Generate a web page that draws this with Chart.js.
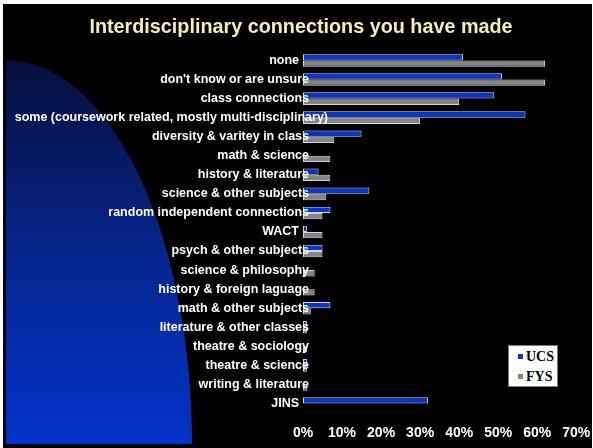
<!DOCTYPE html>
<html>
<head>
<meta charset="utf-8">
<script src="https://cdn.jsdelivr.net/npm/chart.js@4.4.1/dist/chart.umd.min.js"></script>
<style>
  html, body { margin: 0; padding: 0; background: #ffffff; }
  #slide { position: absolute; left: 3px; top: 4px; width: 589px; height: 444px; background: #000000; overflow: hidden; }
  #chart { position: absolute; left: 0; top: 0; }
  #legend {
    position: absolute; left: 505px; top: 341px; width: 50px; height: 42px;
    box-sizing: border-box; background: #ffffff; border: 1px solid #7a7a7a;
    font: bold 14px "Liberation Serif", "Times New Roman", serif; color: #000000;
  }
  #legend .row { position: absolute; left: 0; height: 19px; line-height: 19px; white-space: nowrap; }
  #legend .swatch { position: absolute; left: 9px; top: 7px; width: 5px; height: 5px; }
  #legend .name { position: absolute; left: 17px; top: 0; }
</style>
</head>
<body>
<div id="slide">
  <canvas id="chart" width="589" height="444"></canvas>
  <div id="legend"></div>
</div>
<script>
// Survey answers, top to bottom
const categories = [
  'none',
  "don't know or are unsure",
  'class connections',
  'some (coursework related, mostly multi-disciplinary)',
  'diversity & varitey in class',
  'math & science',
  'history & literature',
  'science & other subjects',
  'random independent connections',
  'WACT',
  'psych & other subjects',
  'science & philosophy',
  'history & foreign laguage',
  'math & other subjects',
  'literature & other classes',
  'theatre & sociology',
  'theatre & science',
  'writing & literature',
  'JINS'
];

// Share of respondents, in percent
const ucsValues = [41, 51, 49, 57, 15, 0, 4, 17, 7, 1, 5, 0, 0, 7, 1, 0, 1, 0, 32];
const fysValues = [62, 62, 40, 30, 8, 7, 7, 6, 5, 5, 5, 3, 3, 2, 1, 1, 1, 1, 0];

const seriesNames = ['UCS', 'FYS'];
const seriesColors = ['#0535d2', '#858585'];

// Axis ticks, in percent
const xTicks = [0, 10, 20, 30, 40, 50, 60, 70];

const titleText = 'Interdisciplinary connections you have made';

const sansFamily = '"Liberation Sans", Arial, sans-serif';
const labelFont = { family: sansFamily, size: 12.5, weight: 'bold' };

// Measure a category label the same way the axis will
const measureCtx = document.createElement('canvas').getContext('2d');
measureCtx.font = 'bold ' + labelFont.size + 'px ' + sansFamily;
const labelWidth = s => measureCtx.measureText(s).width;

// Label columns: very short answers sit tight to the bars, the very long one
// runs well past the axis, the rest end slightly inside the plot.
const PLOT_LEFT = 300;
const labelGroups = [
  { id: 'y',      end: 306, weight: 3, width: 293, pick: w => w >= 60 && w < 260 },
  { id: 'yShort', end: 296, weight: 2, width: 0,   pick: w => w < 60 },
  { id: 'yWide',  end: 325, weight: 1, width: 0,   pick: w => w >= 260 }
];

function labelAxis(group) {
  const shown = categories.map(c => group.pick(labelWidth(c)));
  const widest = Math.max(0, ...categories.filter((c, i) => shown[i]).map(labelWidth));
  return {
    type: 'category',
    position: 'left',
    offset: true,
    weight: group.weight,
    grid: { display: false, drawTicks: false, offset: true },
    border: { display: false },
    ticks: {
      z: 1,                // labels are painted over the bars
      autoSkip: false,
      mirror: true,
      crossAlign: 'far',
      color: '#ffffff',
      font: labelFont,
      padding: group.end - PLOT_LEFT - widest,
      callback: (v, i) => shown[i] ? categories[i] : ''
    },
    afterFit(scale) { scale.width = group.width; }
  };
}

// Blue sweep in the lower-left corner of the slide
const sweepPlugin = {
  id: 'sweep',
  beforeDraw(chart) {
    const ctx = chart.ctx;
    const cx = 3, cy = 440, rx = 186, ry = 384;
    const g = ctx.createLinearGradient(0, cy - ry, 0, cy);
    g.addColorStop(0, '#060f3a');
    g.addColorStop(0.5, '#06248c');
    g.addColorStop(1, '#0233c8');
    ctx.save();
    ctx.beginPath();
    ctx.moveTo(cx, cy);
    ctx.lineTo(cx, cy - ry);
    ctx.ellipse(cx, cy, rx, ry, 0, -Math.PI / 2, 0, false);
    ctx.closePath();
    ctx.fillStyle = g;
    ctx.fill();
    ctx.restore();
  }
};

const scales = {
  x: {
    type: 'linear',
    min: xTicks[0],
    max: xTicks[xTicks.length - 1],
    afterBuildTicks(scale) { scale.ticks = xTicks.map(v => ({ value: v })); },
    grid: { display: false, drawTicks: false },
    border: { display: false },
    ticks: {
      color: '#ffffff',
      padding: 11.5,
      font: { family: sansFamily, size: 14, weight: 'bold' },
      callback: v => v + '%'
    },
    afterFit(scale) {
      scale.height = 35;
      // room at the right end for the last tick label only
      scale.paddingLeft = 0;
      scale.paddingRight = 15.7;
    }
  }
};
labelGroups.forEach(g => { scales[g.id] = labelAxis(g); });

const chart = new Chart(document.getElementById('chart'), {
  type: 'bar',
  data: {
    labels: categories,
    datasets: seriesNames.map((name, i) => ({
      label: name,
      data: i === 0 ? ucsValues : fysValues,
      backgroundColor: seriesColors[i],
      borderColor: '#d6d6d6',
      borderWidth: 1,
      borderSkipped: false,
      categoryPercentage: 0.66,
      barPercentage: 1.0
    }))
  },
  options: {
    indexAxis: 'y',
    responsive: false,
    animation: false,
    devicePixelRatio: 1,
    layout: { padding: { left: 7, right: 0, top: 0, bottom: 0 } },
    plugins: {
      legend: { display: false },
      tooltip: { enabled: false },
      title: {
        display: true,
        text: titleText,
        color: '#f4efb4',
        font: { family: sansFamily, size: 19.8, weight: 'bold' },
        padding: { top: 11.5, bottom: 11.7 }
      }
    },
    scales
  },
  plugins: [sweepPlugin]
});

// Legend box built from the chart's own datasets
const legendEl = document.getElementById('legend');
chart.data.datasets.forEach((ds, i) => {
  const row = document.createElement('div');
  row.className = 'row';
  row.style.top = (1 + i * 19.5) + 'px';
  const sw = document.createElement('span');
  sw.className = 'swatch';
  sw.style.background = ds.backgroundColor;
  const name = document.createElement('span');
  name.className = 'name';
  name.textContent = ds.label;
  row.appendChild(sw);
  row.appendChild(name);
  legendEl.appendChild(row);
});
</script>
</body>
</html>
